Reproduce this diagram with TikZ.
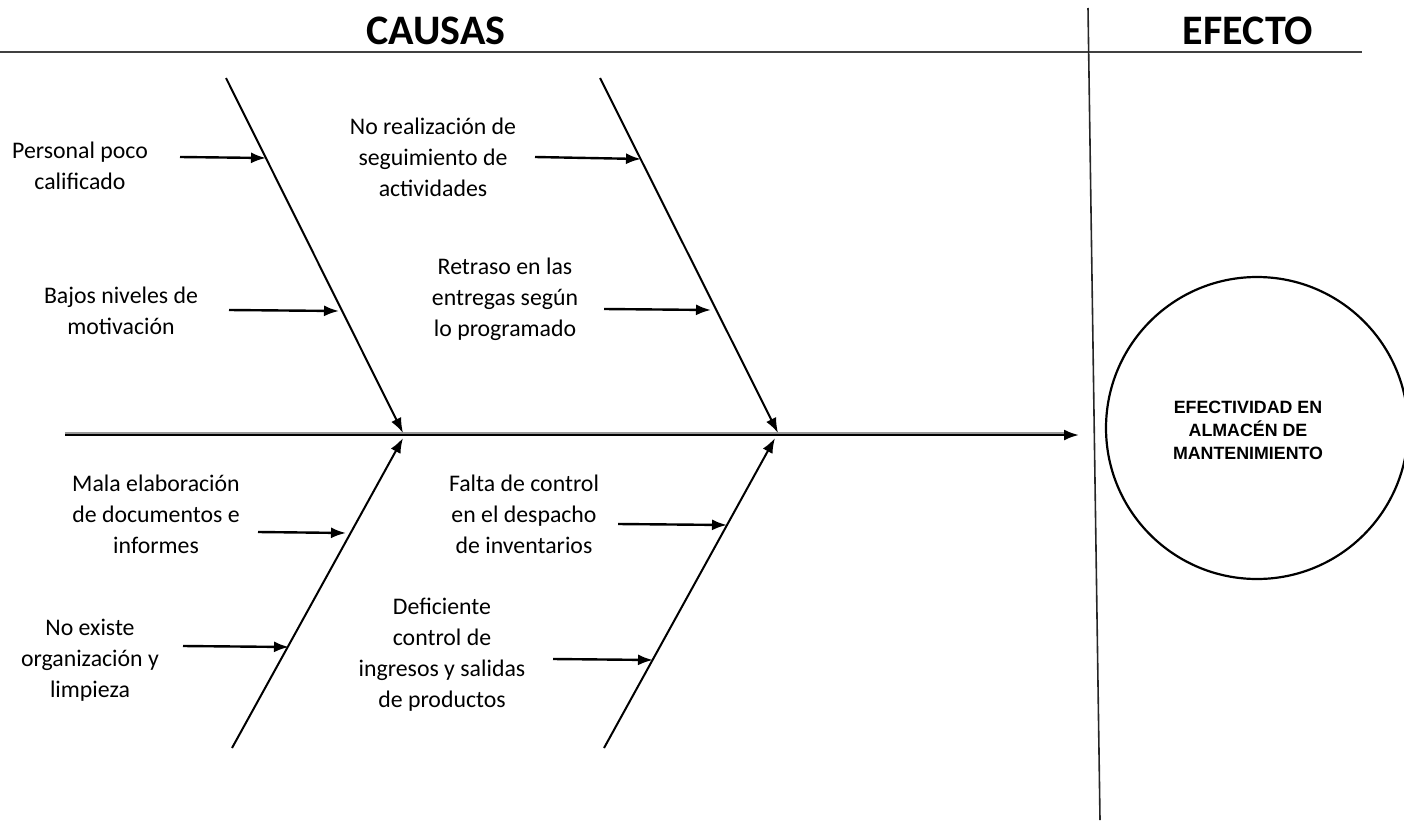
\documentclass[tikz,border=0pt]{standalone}
\usepackage{fontspec}
\setmainfont{Carlito}
\newfontfamily\arialfont{Liberation Sans}
\usetikzlibrary{arrows.meta}
\tikzset{
  lbl/.style={align=center, inner sep=0pt, font=\fontsize{23.8}{31}\selectfont},
  tip/.style={-{Latex[length=15pt,width=11pt]}},
  bone/.style={line width=2pt, tip},
  cause/.style={line width=2.4pt, tip},
  title/.style={inner sep=0pt, font=\fontsize{42}{48}\selectfont\bfseries},
}
\begin{document}
\begin{tikzpicture}[x=1pt,y=-1pt]
\useasboundingbox (0,0) rectangle (1404,824);
% header lines
\coordinate (hl) at (0,52);
\coordinate (hr) at (1362,52);
\draw[line width=1.6pt, black!75] (hl) -- (hr);
\coordinate (vt) at (1088,8);
\coordinate (vb) at (1100,820);
\draw[line width=1.6pt, black!85] (vt) -- (vb);
\node[title] (causas) at (436,31) {CAUSAS};
\node[title] (efecto) at (1248,31) {EFECTO};
% spine
\coordinate (sp0) at (65,435);
\coordinate (sp1) at (1079,435);
\draw[line width=2pt, black!40] ([yshift=2pt]sp0) -- ([yshift=2pt,xshift=-10pt]sp1);
\draw[line width=2.4pt, tip] (sp0) -- (sp1);
% effect circle
\node[draw, circle, line width=2.2pt, minimum size=302pt, inner sep=0pt] (eff) at (1257,428) {};
\node[align=center, inner sep=0pt, font=\arialfont\bfseries\fontsize{17.8}{23}\selectfont] (efft) at (1248,430) {EFECTIVIDAD EN\\ALMACÉN DE\\MANTENIMIENTO};
% bones
\coordinate (u1s) at (226,78);  \coordinate (u1e) at (403,433);
\coordinate (u2s) at (600,78);  \coordinate (u2e) at (778,433);
\coordinate (l1s) at (232,748); \coordinate (l1e) at (403,438);
\coordinate (l2s) at (604,748); \coordinate (l2e) at (775,438);
\draw[bone] (u1s) -- (u1e);
\draw[bone] (u2s) -- (u2e);
\draw[bone] (l1s) -- (l1e);
\draw[bone] (l2s) -- (l2e);
% labels
\node[lbl] (c1) at (80,166) {Personal poco\\calificado};
\node[lbl] (c2) at (121,311) {Bajos niveles de\\motivación};
\node[lbl] (c3) at (433,157) {No realización de\\seguimiento de\\actividades};
\node[lbl] (c4) at (505,299) {Retraso en las\\entregas según\\lo programado};
\node[lbl] (c5) at (156,514) {Mala elaboración\\de documentos e\\informes};
\node[lbl] (c6) at (90,660) {No existe\\organización y\\limpieza};
\node[lbl] (c7) at (524,514) {Falta de control\\en el despacho\\de inventarios};
\node[lbl] (c8) at (442,655) {Deficiente\\control de\\ingresos y salidas\\de productos};
% cause arrows
\coordinate (a1) at (180,157);
\coordinate (a2) at (229,310);
\coordinate (a3) at (535,157);
\coordinate (a4) at (604,309);
\coordinate (a5) at (258,532);
\coordinate (a6) at (183,646);
\coordinate (a7) at (618,524);
\coordinate (a8) at (553,659);
\coordinate (t1) at (266,158);
\coordinate (t2) at (339,311);
\coordinate (t3) at (641,159);
\coordinate (t4) at (711,310);
\coordinate (t5) at (346,533);
\coordinate (t6) at (289,647);
\coordinate (t7) at (727,525);
\coordinate (t8) at (653,660);
\foreach \i in {1,...,8} \draw[cause] (a\i) -- (t\i);
\end{tikzpicture}
\end{document}
